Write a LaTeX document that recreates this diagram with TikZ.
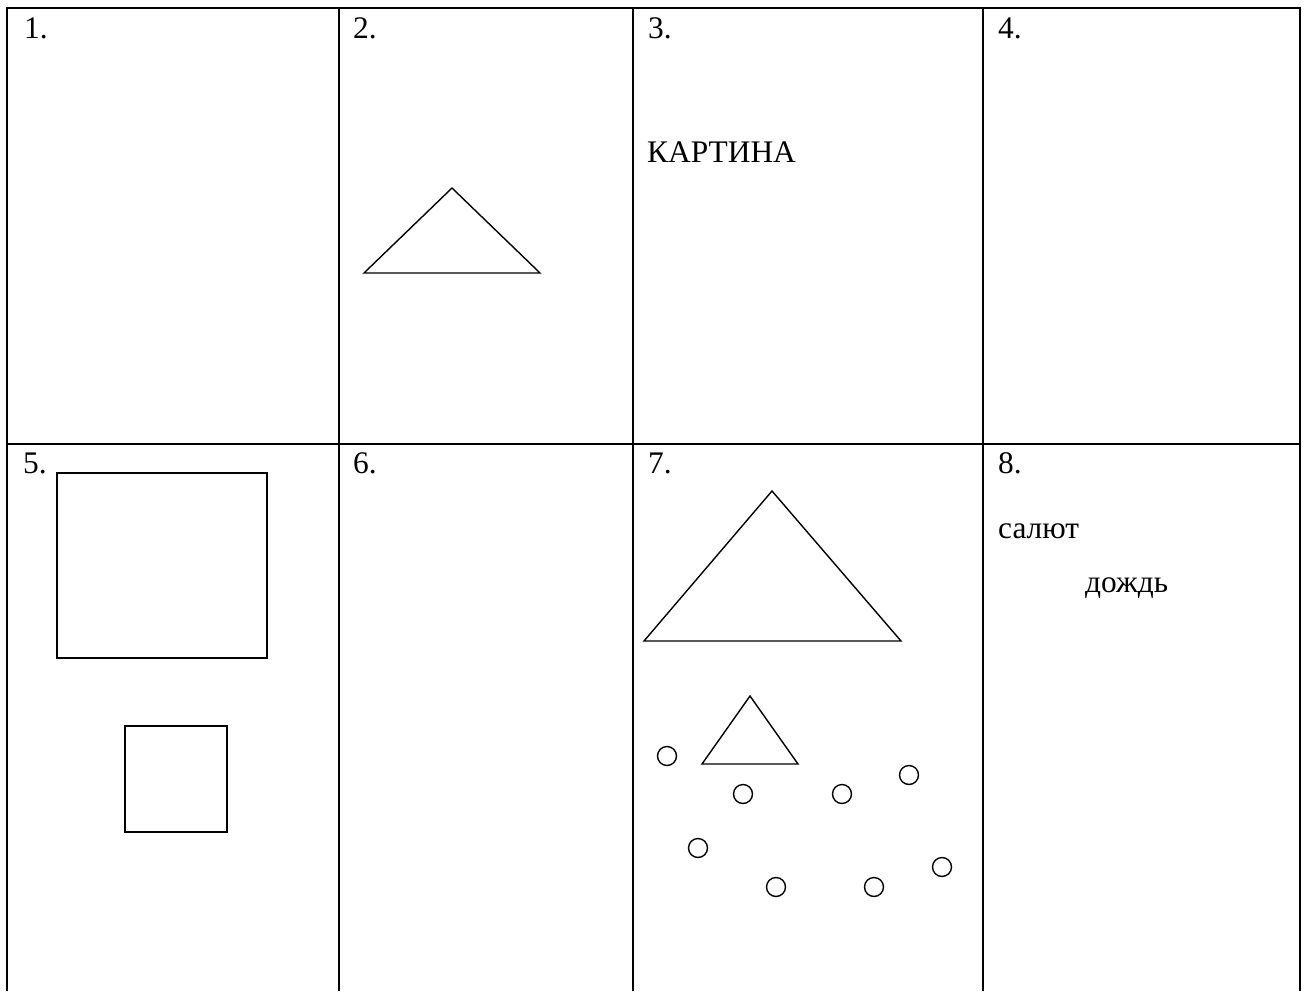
\documentclass[tikz,border=0pt]{standalone}
\usepackage{fontspec}
\setmainfont{Liberation Serif}
\begin{document}
\begin{tikzpicture}[x=1pt,y=-1pt,
  grid/.style={line width=2pt,black},
  outl/.style={line width=1.4pt,black,line join=miter},
  lbl/.style={anchor=base west,inner sep=0pt,font=\fontsize{31.4}{37}\selectfont},
  dot/.style={circle,draw,line width=1.4pt,minimum size=19pt,inner sep=0pt}]
\useasboundingbox (0,0) rectangle (1304,991);
\fill[white] (0,0) rectangle (1304,991);
% table grid
\draw[grid] (6,8) -- (1301,8);
\draw[grid] (6,444) -- (1301,444);
\foreach \x in {7,339,633,983,1300} \draw[grid] (\x,8) -- (\x,991);
% cell labels
\node[lbl] (n1) at (24,38) {1.};
\node[lbl] (n2) at (353,38) {2.};
\node[lbl] (n3) at (648,38) {3.};
\node[lbl] (n4) at (998,38) {4.};
\node[lbl] (n5) at (23,473) {5.};
\node[lbl] (n6) at (353,473) {6.};
\node[lbl] (n7) at (648,473) {7.};
\node[lbl] (n8) at (998,473) {8.};
% cell 2
\draw[outl] (452,188) -- (540,273) -- (364,273) -- cycle;
% cell 3
\node[lbl] (kart) at (647,162) {КАРТИНА};
% cell 5
\draw[outl] (57,473) rectangle (267,658);
\draw[outl] (125,726) rectangle (227,832);
% cell 7
\draw[outl] (772,491) -- (901,641) -- (644,641) -- cycle;
\draw[outl] (750,696) -- (798,764) -- (702,764) -- cycle;
\node[dot] (c1) at (667,756) {};
\node[dot] (c2) at (743,794) {};
\node[dot] (c3) at (842,794) {};
\node[dot] (c4) at (909,775) {};
\node[dot] (c5) at (698,848) {};
\node[dot] (c6) at (776,887) {};
\node[dot] (c7) at (874,887) {};
\node[dot] (c8) at (942,867) {};
% cell 8
\node[lbl] (salut) at (998,538) {салют};
\node[lbl] (dozhd) at (1085,592) {дождь};
\end{tikzpicture}
\end{document}
